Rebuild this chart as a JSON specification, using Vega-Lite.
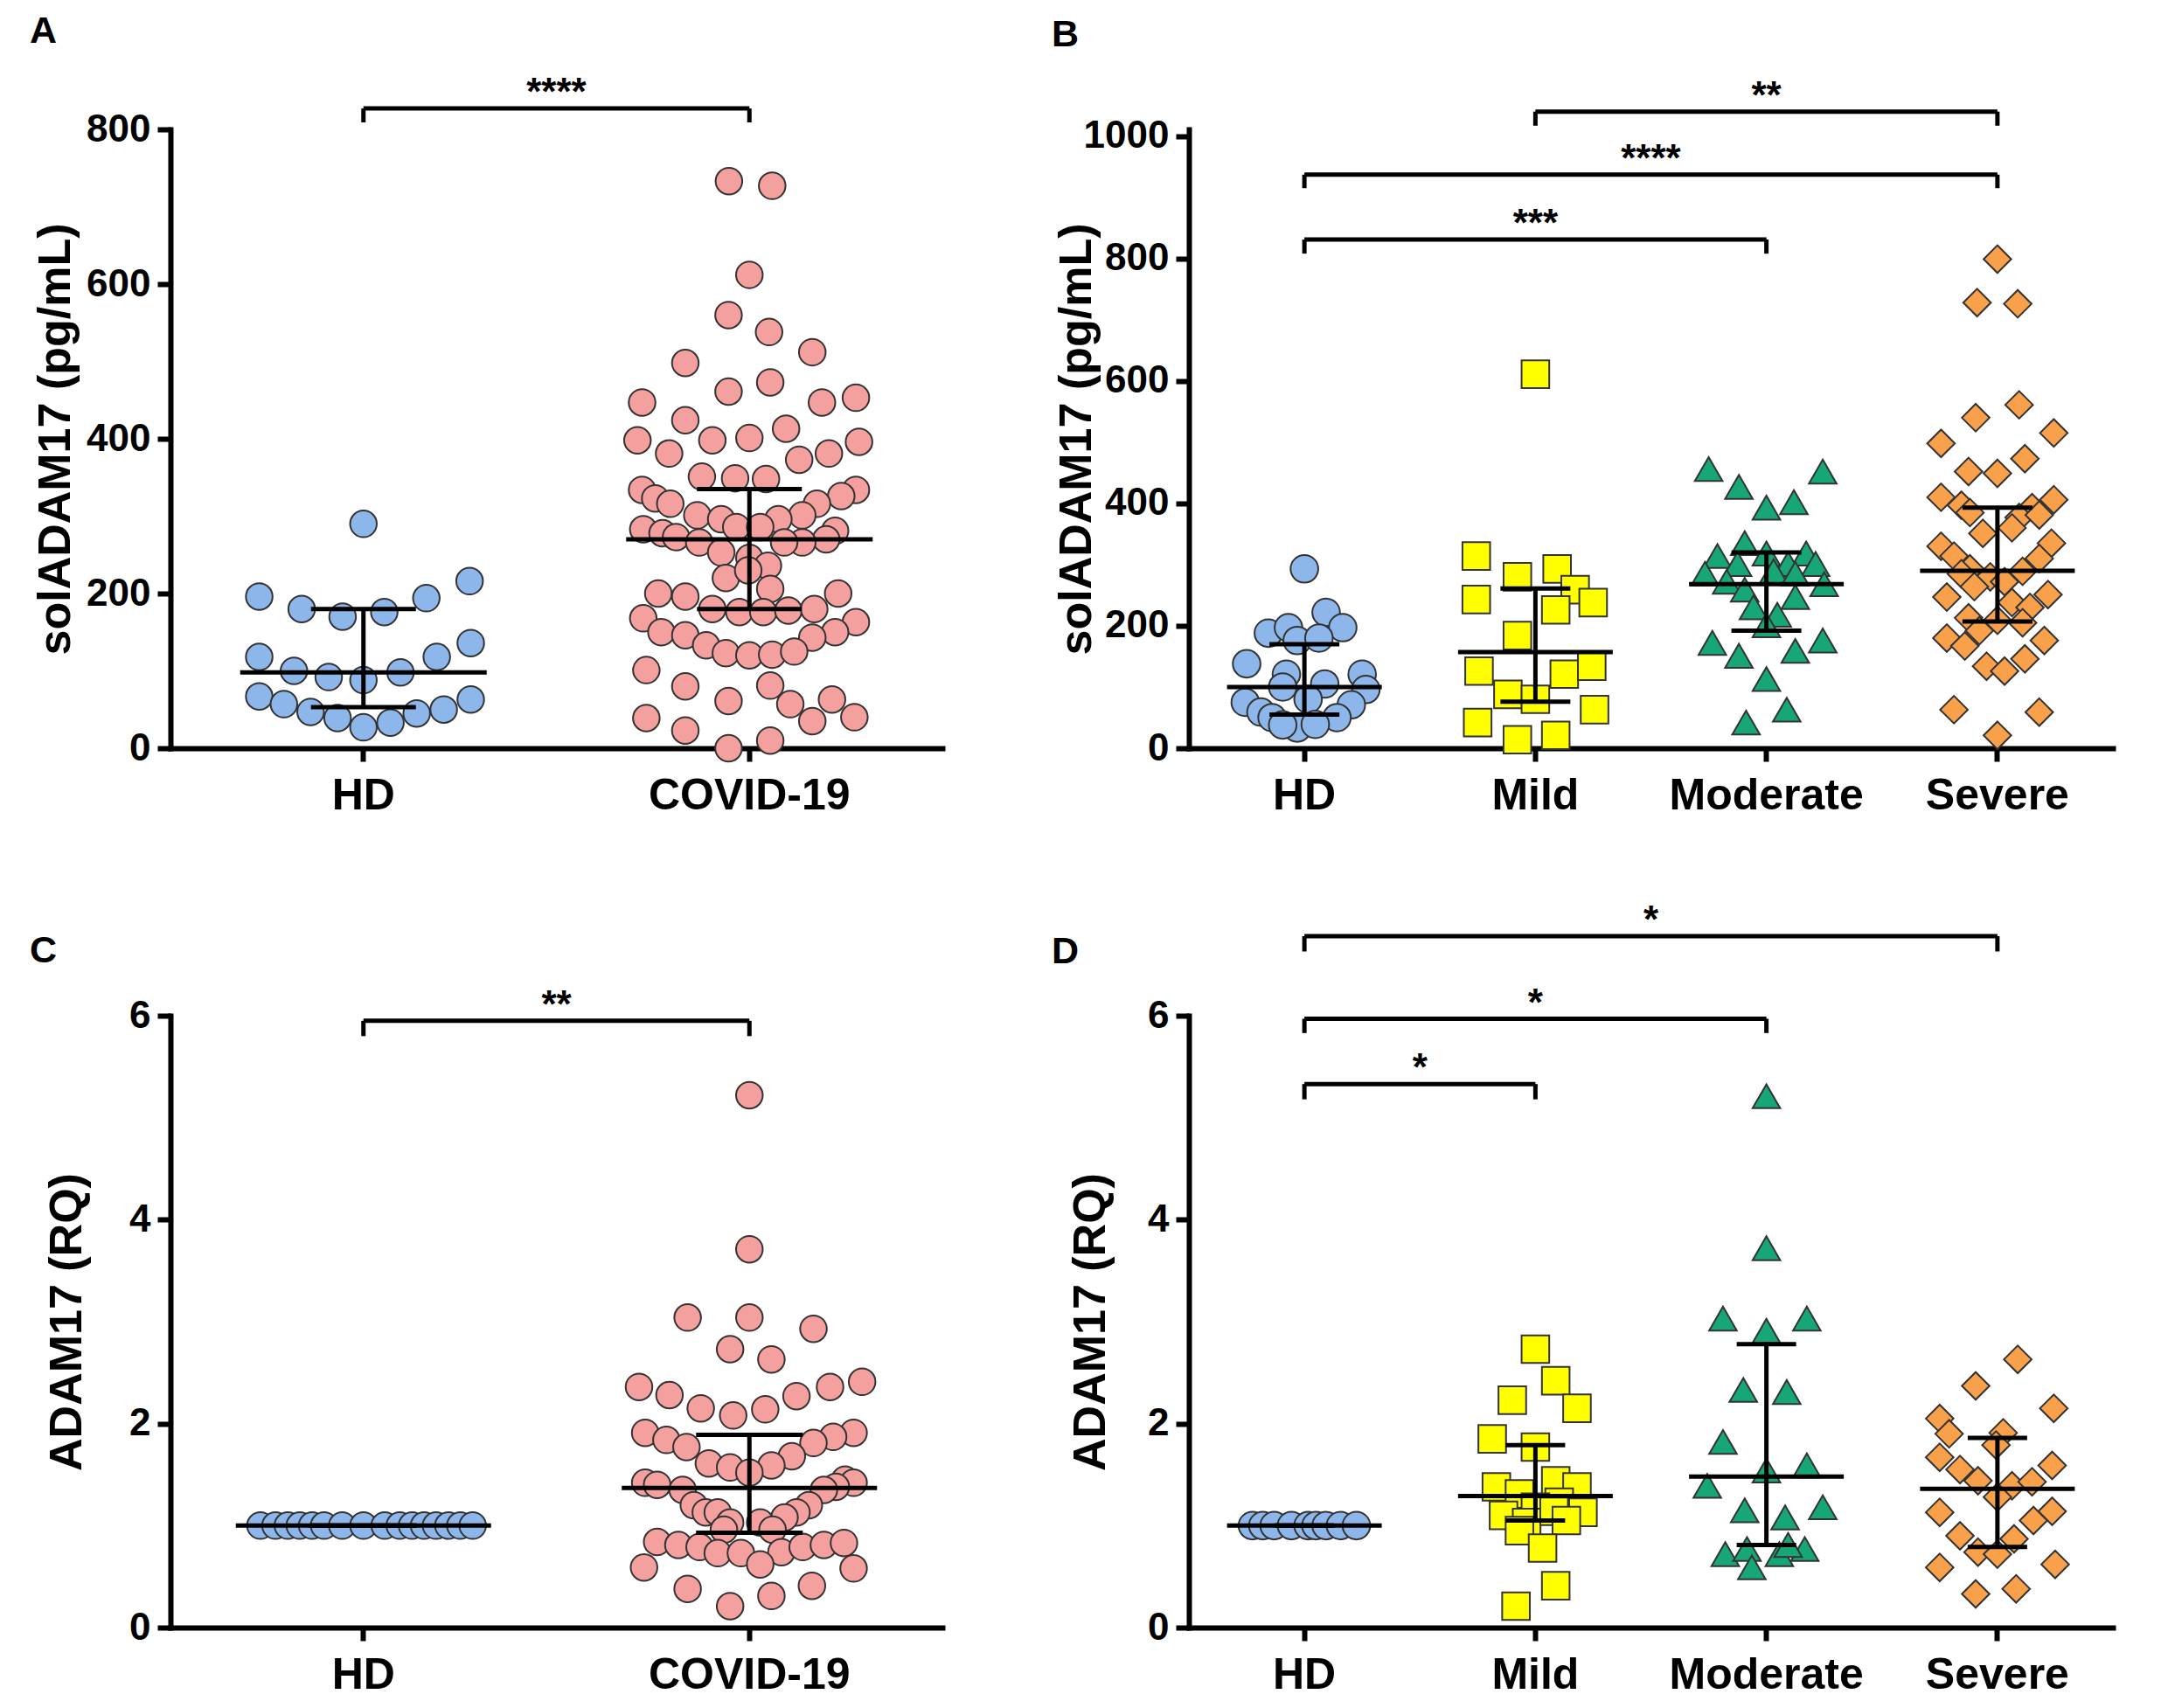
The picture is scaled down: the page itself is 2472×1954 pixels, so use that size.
{
"$schema": "https://vega.github.io/schema/vega-lite/v6.json",
"padding": {"left": 34, "top": 15, "right": 10, "bottom": 10},
"background": "white",
"config": {
 "font": "Liberation Sans",
 "view": {"stroke": null},
 "axis": {"domainColor": "#000", "domainWidth": 6, "domainCap": "square", "tickColor": "#000", "tickWidth": 6, "tickSize": 15, "labelFont": "Liberation Sans", "labelFontWeight": "bold", "labelColor": "#000", "titleFont": "Liberation Sans", "titleFontWeight": "bold", "titleColor": "#000", "titleFontSize": 52, "grid": false, "labelLimit": 600},
 "axisX": {"labelFontSize": 50, "labelAngle": 0, "labelPadding": 14},
 "axisY": {"labelFontSize": 44, "labelPadding": 8, "format": "d", "titleBaseline": "middle"},
 "title": {"font": "Liberation Sans", "fontSize": 43, "fontWeight": "bold", "color": "#000", "anchor": "start", "frame": "group"}
},
"resolve": {"scale": {"xOffset": "independent", "fill": "independent", "shape": "independent"}},
"datasets": {
 "ptsA": [
  {"g":"HD","v":290,"off":0},{"g":"HD","v":196,"off":-0.27},{"g":"HD","v":180,"off":-0.16},{"g":"HD","v":170,"off":-0.054},{"g":"HD","v":176,"off":0.054},{"g":"HD","v":194,"off":0.163},{"g":"HD","v":216,"off":0.275},{"g":"HD","v":136,"off":0.278},{"g":"HD","v":118,"off":-0.27},{"g":"HD","v":118,"off":0.19},{"g":"HD","v":100,"off":-0.18},{"g":"HD","v":92,"off":-0.09},{"g":"HD","v":88,"off":0},{"g":"HD","v":98,"off":0.096},{"g":"HD","v":67,"off":-0.27},{"g":"HD","v":57,"off":-0.206},{"g":"HD","v":47,"off":-0.137},{"g":"HD","v":39,"off":-0.067},{"g":"HD","v":27,"off":0},{"g":"HD","v":33,"off":0.07},{"g":"HD","v":45,"off":0.138},{"g":"HD","v":50,"off":0.208},{"g":"HD","v":63,"off":0.278},
  {"g":"COVID-19","v":733,"off":-0.053},{"g":"COVID-19","v":727,"off":0.059},{"g":"COVID-19","v":612,"off":0},{"g":"COVID-19","v":560,"off":-0.054},{"g":"COVID-19","v":538,"off":0.051},{"g":"COVID-19","v":512,"off":0.163},{"g":"COVID-19","v":498,"off":-0.166},{"g":"COVID-19","v":461,"off":-0.054},{"g":"COVID-19","v":473,"off":0.054},{"g":"COVID-19","v":447,"off":-0.278},{"g":"COVID-19","v":447,"off":0.188},{"g":"COVID-19","v":453,"off":0.276},{"g":"COVID-19","v":424,"off":-0.166},{"g":"COVID-19","v":413,"off":0.095},{"g":"COVID-19","v":398,"off":-0.29},{"g":"COVID-19","v":398,"off":-0.096},{"g":"COVID-19","v":401,"off":0},{"g":"COVID-19","v":396,"off":0.284},{"g":"COVID-19","v":381,"off":-0.208},{"g":"COVID-19","v":381,"off":0.206},{"g":"COVID-19","v":373,"off":0.129},{"g":"COVID-19","v":351,"off":-0.123},{"g":"COVID-19","v":349,"off":-0.037},{"g":"COVID-19","v":348,"off":0.043},{"g":"COVID-19","v":334,"off":-0.278},{"g":"COVID-19","v":334,"off":0.276},{"g":"COVID-19","v":323,"off":-0.244},{"g":"COVID-19","v":316,"off":-0.205},{"g":"COVID-19","v":326,"off":0.238},{"g":"COVID-19","v":316,"off":0.175},{"g":"COVID-19","v":301,"off":-0.135},{"g":"COVID-19","v":296,"off":-0.073},{"g":"COVID-19","v":301,"off":0.137},{"g":"COVID-19","v":296,"off":0.075},{"g":"COVID-19","v":283,"off":-0.275},{"g":"COVID-19","v":281,"off":0.222},{"g":"COVID-19","v":278,"off":-0.225},{"g":"COVID-19","v":273,"off":-0.19},{"g":"COVID-19","v":286,"off":-0.034},{"g":"COVID-19","v":286,"off":0.028},{"g":"COVID-19","v":270,"off":0.199},{"g":"COVID-19","v":266,"off":-0.13},{"g":"COVID-19","v":266,"off":0.137},{"g":"COVID-19","v":253,"off":-0.073},{"g":"COVID-19","v":266,"off":0.09},{"g":"COVID-19","v":246,"off":0},{"g":"COVID-19","v":236,"off":0.048},{"g":"COVID-19","v":220,"off":-0.061},{"g":"COVID-19","v":230,"off":-0.003},{"g":"COVID-19","v":206,"off":0.054},{"g":"COVID-19","v":200,"off":-0.236},{"g":"COVID-19","v":196,"off":-0.166},{"g":"COVID-19","v":200,"off":0.23},{"g":"COVID-19","v":180,"off":-0.096},{"g":"COVID-19","v":176,"off":-0.026},{"g":"COVID-19","v":176,"off":0.036},{"g":"COVID-19","v":178,"off":0.101},{"g":"COVID-19","v":180,"off":0.168},{"g":"COVID-19","v":168,"off":-0.275},{"g":"COVID-19","v":163,"off":0.276},{"g":"COVID-19","v":150,"off":-0.228},{"g":"COVID-19","v":146,"off":-0.166},{"g":"COVID-19","v":150,"off":0.222},{"g":"COVID-19","v":143,"off":0.163},{"g":"COVID-19","v":133,"off":-0.112},{"g":"COVID-19","v":123,"off":-0.061},{"g":"COVID-19","v":120,"off":0},{"g":"COVID-19","v":121,"off":0.059},{"g":"COVID-19","v":125,"off":0.116},{"g":"COVID-19","v":101,"off":-0.267},{"g":"COVID-19","v":80,"off":-0.166},{"g":"COVID-19","v":81,"off":0.054},{"g":"COVID-19","v":61,"off":-0.054},{"g":"COVID-19","v":57,"off":0.106},{"g":"COVID-19","v":63,"off":0.214},{"g":"COVID-19","v":39,"off":-0.267},{"g":"COVID-19","v":35,"off":0.163},{"g":"COVID-19","v":40,"off":0.272},{"g":"COVID-19","v":23,"off":-0.166},{"g":"COVID-19","v":10,"off":0.054},{"g":"COVID-19","v":0,"off":-0.054}
 ],
 "sumA": [{"g":"HD","med":98,"q1":53,"q3":180},{"g":"COVID-19","med":270,"q1":180,"q3":335}],
 "brA": [{"g1":"HD","g2":"COVID-19","y":827,"ylow":809,"mid":0.5,"label":"****"}],
 "ptsB": [
  {"g":"HD","v":293,"off":0},{"g":"HD","v":188,"off":-0.156},{"g":"HD","v":197,"off":-0.069},{"g":"HD","v":222,"off":0.094},{"g":"HD","v":197,"off":0.166},{"g":"HD","v":176,"off":-0.031},{"g":"HD","v":180,"off":0.063},{"g":"HD","v":138,"off":-0.25},{"g":"HD","v":121,"off":-0.078},{"g":"HD","v":121,"off":0.25},{"g":"HD","v":105,"off":0.088},{"g":"HD","v":100,"off":-0.094},{"g":"HD","v":96,"off":0.266},{"g":"HD","v":75,"off":-0.256},{"g":"HD","v":80,"off":0.016},{"g":"HD","v":71,"off":0.203},{"g":"HD","v":59,"off":-0.188},{"g":"HD","v":50,"off":-0.14},{"g":"HD","v":50,"off":0.141},{"g":"HD","v":33,"off":-0.031},{"g":"HD","v":39,"off":0.047},{"g":"HD","v":38,"off":-0.094},
  {"g":"Mild","v":611,"off":0},{"g":"Mild","v":314,"off":-0.256},{"g":"Mild","v":280,"off":-0.078},{"g":"Mild","v":293,"off":0.094},{"g":"Mild","v":259,"off":0.172},{"g":"Mild","v":243,"off":-0.256},{"g":"Mild","v":238,"off":0.25},{"g":"Mild","v":226,"off":0.088},{"g":"Mild","v":184,"off":-0.078},{"g":"Mild","v":126,"off":-0.244},{"g":"Mild","v":121,"off":0.125},{"g":"Mild","v":134,"off":0.244},{"g":"Mild","v":88,"off":-0.119},{"g":"Mild","v":80,"off":0},{"g":"Mild","v":63,"off":0.256},{"g":"Mild","v":42,"off":-0.25},{"g":"Mild","v":14,"off":-0.078},{"g":"Mild","v":21,"off":0.088},
  {"g":"Moderate","v":456,"off":-0.25},{"g":"Moderate","v":452,"off":0.244},{"g":"Moderate","v":427,"off":-0.119},{"g":"Moderate","v":402,"off":0.119},{"g":"Moderate","v":393,"off":0},{"g":"Moderate","v":335,"off":-0.094},{"g":"Moderate","v":314,"off":-0.212},{"g":"Moderate","v":318,"off":0.172},{"g":"Moderate","v":301,"off":0.213},{"g":"Moderate","v":318,"off":0},{"g":"Moderate","v":301,"off":-0.125},{"g":"Moderate","v":301,"off":0.094},{"g":"Moderate","v":285,"off":-0.266},{"g":"Moderate","v":289,"off":0.031},{"g":"Moderate","v":285,"off":0.125},{"g":"Moderate","v":272,"off":-0.172},{"g":"Moderate","v":268,"off":0.25},{"g":"Moderate","v":259,"off":-0.094},{"g":"Moderate","v":247,"off":0.125},{"g":"Moderate","v":230,"off":-0.056},{"g":"Moderate","v":218,"off":0.047},{"g":"Moderate","v":201,"off":0},{"g":"Moderate","v":172,"off":-0.234},{"g":"Moderate","v":176,"off":0.244},{"g":"Moderate","v":151,"off":-0.119},{"g":"Moderate","v":159,"off":0.125},{"g":"Moderate","v":113,"off":0},{"g":"Moderate","v":63,"off":0.088},{"g":"Moderate","v":42,"off":-0.088},
  {"g":"Severe","v":799,"off":0},{"g":"Severe","v":728,"off":-0.088},{"g":"Severe","v":726,"off":0.088},{"g":"Severe","v":561,"off":0.094},{"g":"Severe","v":540,"off":-0.094},{"g":"Severe","v":515,"off":0.244},{"g":"Severe","v":498,"off":-0.244},{"g":"Severe","v":473,"off":0.119},{"g":"Severe","v":452,"off":-0.125},{"g":"Severe","v":449,"off":0},{"g":"Severe","v":410,"off":-0.244},{"g":"Severe","v":406,"off":0.244},{"g":"Severe","v":397,"off":-0.156},{"g":"Severe","v":393,"off":0.15},{"g":"Severe","v":385,"off":-0.119},{"g":"Severe","v":377,"off":0.094},{"g":"Severe","v":381,"off":0.181},{"g":"Severe","v":351,"off":-0.063},{"g":"Severe","v":360,"off":0.063},{"g":"Severe","v":330,"off":-0.244},{"g":"Severe","v":335,"off":0.234},{"g":"Severe","v":314,"off":-0.188},{"g":"Severe","v":310,"off":0.181},{"g":"Severe","v":293,"off":-0.119},{"g":"Severe","v":289,"off":0.109},{"g":"Severe","v":280,"off":-0.031},{"g":"Severe","v":285,"off":-0.156},{"g":"Severe","v":272,"off":0.031},{"g":"Severe","v":264,"off":-0.1},{"g":"Severe","v":247,"off":-0.219},{"g":"Severe","v":251,"off":0.219},{"g":"Severe","v":238,"off":0.063},{"g":"Severe","v":230,"off":0.141},{"g":"Severe","v":213,"off":-0.125},{"g":"Severe","v":209,"off":0},{"g":"Severe","v":205,"off":0.109},{"g":"Severe","v":192,"off":-0.078},{"g":"Severe","v":180,"off":-0.219},{"g":"Severe","v":176,"off":0.203},{"g":"Severe","v":167,"off":-0.141},{"g":"Severe","v":146,"off":0.119},{"g":"Severe","v":134,"off":-0.047},{"g":"Severe","v":126,"off":0.031},{"g":"Severe","v":63,"off":-0.188},{"g":"Severe","v":59,"off":0.181},{"g":"Severe","v":21,"off":0}
 ],
 "sumB": [{"g":"HD","med":100,"q1":55,"q3":170},{"g":"Mild","med":157,"q1":76,"q3":261},{"g":"Moderate","med":268,"q1":192,"q3":320},{"g":"Severe","med":290,"q1":207,"q3":393}],
 "brB": [{"g1":"Mild","g2":"Severe","y":1040,"ylow":1017,"mid":1,"label":"**"},{"g1":"HD","g2":"Severe","y":937,"ylow":915,"mid":1.5,"label":"****"},{"g1":"HD","g2":"Moderate","y":831,"ylow":808,"mid":1,"label":"***"}],
 "ptsC": [
  {"g":"HD","v":1,"off":-0.267},{"g":"HD","v":1,"off":-0.228},{"g":"HD","v":1,"off":-0.196},{"g":"HD","v":1,"off":-0.165},{"g":"HD","v":1,"off":-0.133},{"g":"HD","v":1,"off":-0.102},{"g":"HD","v":1,"off":-0.055},{"g":"HD","v":1,"off":0},{"g":"HD","v":1,"off":0.055},{"g":"HD","v":1,"off":0.094},{"g":"HD","v":1,"off":0.126},{"g":"HD","v":1,"off":0.157},{"g":"HD","v":1,"off":0.188},{"g":"HD","v":1,"off":0.22},{"g":"HD","v":1,"off":0.251},{"g":"HD","v":1,"off":0.283},
  {"g":"COVID-19","v":5.22,"off":0},{"g":"COVID-19","v":3.71,"off":0},{"g":"COVID-19","v":3.04,"off":-0.16},{"g":"COVID-19","v":3.04,"off":0},{"g":"COVID-19","v":2.93,"off":0.166},{"g":"COVID-19","v":2.73,"off":-0.05},{"g":"COVID-19","v":2.63,"off":0.057},{"g":"COVID-19","v":2.36,"off":-0.286},{"g":"COVID-19","v":2.41,"off":0.292},{"g":"COVID-19","v":2.28,"off":-0.207},{"g":"COVID-19","v":2.36,"off":0.209},{"g":"COVID-19","v":2.27,"off":0.122},{"g":"COVID-19","v":2.15,"off":-0.126},{"g":"COVID-19","v":2.08,"off":-0.042},{"g":"COVID-19","v":2.14,"off":0.041},{"g":"COVID-19","v":1.91,"off":-0.27},{"g":"COVID-19","v":1.91,"off":0.27},{"g":"COVID-19","v":1.84,"off":-0.215},{"g":"COVID-19","v":1.87,"off":0.217},{"g":"COVID-19","v":1.77,"off":-0.163},{"g":"COVID-19","v":1.81,"off":0.166},{"g":"COVID-19","v":1.68,"off":0.11},{"g":"COVID-19","v":1.61,"off":-0.105},{"g":"COVID-19","v":1.57,"off":-0.05},{"g":"COVID-19","v":1.59,"off":0.057},{"g":"COVID-19","v":1.52,"off":0},{"g":"COVID-19","v":1.42,"off":-0.27},{"g":"COVID-19","v":1.4,"off":-0.239},{"g":"COVID-19","v":1.45,"off":0.248},{"g":"COVID-19","v":1.42,"off":0.27},{"g":"COVID-19","v":1.38,"off":0.224},{"g":"COVID-19","v":1.35,"off":-0.173},{"g":"COVID-19","v":1.35,"off":0.193},{"g":"COVID-19","v":1.2,"off":-0.144},{"g":"COVID-19","v":1.2,"off":0.154},{"g":"COVID-19","v":1.13,"off":-0.113},{"g":"COVID-19","v":1.13,"off":-0.082},{"g":"COVID-19","v":1.13,"off":0.122},{"g":"COVID-19","v":1.08,"off":0.091},{"g":"COVID-19","v":1.03,"off":-0.05},{"g":"COVID-19","v":1.03,"off":0.028},{"g":"COVID-19","v":0.96,"off":0.06},{"g":"COVID-19","v":0.96,"off":-0.066},{"g":"COVID-19","v":0.84,"off":-0.239},{"g":"COVID-19","v":0.81,"off":-0.184},{"g":"COVID-19","v":0.79,"off":-0.129},{"g":"COVID-19","v":0.73,"off":-0.082},{"g":"COVID-19","v":0.73,"off":-0.022},{"g":"COVID-19","v":0.74,"off":0.083},{"g":"COVID-19","v":0.79,"off":0.138},{"g":"COVID-19","v":0.81,"off":0.193},{"g":"COVID-19","v":0.83,"off":0.245},{"g":"COVID-19","v":0.62,"off":0.028},{"g":"COVID-19","v":0.59,"off":-0.273},{"g":"COVID-19","v":0.58,"off":0.27},{"g":"COVID-19","v":0.38,"off":-0.16},{"g":"COVID-19","v":0.41,"off":0.162},{"g":"COVID-19","v":0.31,"off":0.057},{"g":"COVID-19","v":0.21,"off":-0.05}
 ],
 "sumC": [{"g":"HD","med":1,"q1":1,"q3":1},{"g":"COVID-19","med":1.37,"q1":0.93,"q3":1.89}],
 "brC": [{"g1":"HD","g2":"COVID-19","y":5.95,"ylow":5.8,"mid":0.5,"label":"**"}],
 "ptsD": [
  {"g":"HD","v":1,"off":-0.225},{"g":"HD","v":1,"off":-0.18},{"g":"HD","v":1,"off":-0.131},{"g":"HD","v":1,"off":-0.056},{"g":"HD","v":1,"off":0.016},{"g":"HD","v":1,"off":0.05},{"g":"HD","v":1,"off":0.094},{"g":"HD","v":1,"off":0.156},{"g":"HD","v":1,"off":0.225},
  {"g":"Mild","v":2.73,"off":0},{"g":"Mild","v":2.42,"off":0.088},{"g":"Mild","v":2.23,"off":-0.1},{"g":"Mild","v":2.15,"off":0.18},{"g":"Mild","v":1.85,"off":-0.187},{"g":"Mild","v":1.77,"off":0},{"g":"Mild","v":1.38,"off":-0.169},{"g":"Mild","v":1.44,"off":0.088},{"g":"Mild","v":1.38,"off":0.18},{"g":"Mild","v":1.31,"off":-0.069},{"g":"Mild","v":1.23,"off":0.103},{"g":"Mild","v":1.18,"off":0},{"g":"Mild","v":1.1,"off":-0.138},{"g":"Mild","v":1.03,"off":-0.038},{"g":"Mild","v":1.14,"off":0.081},{"g":"Mild","v":1.13,"off":0.206},{"g":"Mild","v":1.05,"off":0.134},{"g":"Mild","v":0.95,"off":-0.069},{"g":"Mild","v":0.78,"off":0.031},{"g":"Mild","v":0.41,"off":0.088},{"g":"Mild","v":0.21,"off":-0.084},
  {"g":"Moderate","v":5.21,"off":0},{"g":"Moderate","v":3.72,"off":0},{"g":"Moderate","v":3.03,"off":-0.188},{"g":"Moderate","v":3.03,"off":0.175},{"g":"Moderate","v":2.91,"off":0},{"g":"Moderate","v":2.33,"off":-0.1},{"g":"Moderate","v":2.31,"off":0.088},{"g":"Moderate","v":1.82,"off":-0.188},{"g":"Moderate","v":1.59,"off":0.175},{"g":"Moderate","v":1.54,"off":0},{"g":"Moderate","v":1.39,"off":-0.256},{"g":"Moderate","v":1.18,"off":0.244},{"g":"Moderate","v":1.15,"off":-0.094},{"g":"Moderate","v":1.08,"off":0.081},{"g":"Moderate","v":0.72,"off":-0.178},{"g":"Moderate","v":0.77,"off":-0.084},{"g":"Moderate","v":0.72,"off":0.056},{"g":"Moderate","v":0.77,"off":0.166},{"g":"Moderate","v":0.81,"off":0.094},{"g":"Moderate","v":0.59,"off":-0.063},
  {"g":"Severe","v":2.63,"off":0.088},{"g":"Severe","v":2.37,"off":-0.094},{"g":"Severe","v":2.15,"off":0.244},{"g":"Severe","v":2.05,"off":-0.25},{"g":"Severe","v":1.9,"off":-0.209},{"g":"Severe","v":1.91,"off":0.025},{"g":"Severe","v":1.79,"off":-0.006},{"g":"Severe","v":1.67,"off":-0.25},{"g":"Severe","v":1.59,"off":0.237},{"g":"Severe","v":1.55,"off":-0.162},{"g":"Severe","v":1.44,"off":-0.084},{"g":"Severe","v":1.39,"off":0.063},{"g":"Severe","v":1.43,"off":0.15},{"g":"Severe","v":1.28,"off":0},{"g":"Severe","v":1.13,"off":-0.25},{"g":"Severe","v":1.14,"off":0.237},{"g":"Severe","v":1.05,"off":0.156},{"g":"Severe","v":0.9,"off":-0.162},{"g":"Severe","v":0.87,"off":0.072},{"g":"Severe","v":0.74,"off":-0.084},{"g":"Severe","v":0.72,"off":0},{"g":"Severe","v":0.59,"off":-0.25},{"g":"Severe","v":0.62,"off":0.25},{"g":"Severe","v":0.33,"off":-0.094},{"g":"Severe","v":0.38,"off":0.081}
 ],
 "sumD": [{"g":"HD","med":1,"q1":1,"q3":1},{"g":"Mild","med":1.29,"q1":1.05,"q3":1.79},{"g":"Moderate","med":1.48,"q1":0.81,"q3":2.78},{"g":"Severe","med":1.36,"q1":0.79,"q3":1.86}],
 "brD": [{"g1":"HD","g2":"Severe","y":6.78,"ylow":6.63,"mid":1.5,"label":"*"},{"g1":"HD","g2":"Moderate","y":5.97,"ylow":5.83,"mid":1,"label":"*"},{"g1":"HD","g2":"Mild","y":5.33,"ylow":5.18,"mid":0.5,"label":"*"}]
},
"columns": 2,
"bounds": "flush",
"spacing": {"row": 306, "column": 282},
"concat": [
 {
  "width": 883, "height": 708,
  "title": {"text": "A", "dx": -161, "dy": -23},
  "layer": [
   {"data": {"name": "ptsA"}, "mark": {"type": "point", "shape": "circle", "filled": true, "size": 930, "stroke": "#333", "strokeWidth": 2, "opacity": 1},
    "encoding": {
     "x": {"field": "g", "type": "nominal", "title": null, "sort": null, "scale": {"domain": ["HD","COVID-19"], "paddingInner": 0, "paddingOuter": 0}},
     "xOffset": {"field": "off", "type": "quantitative", "scale": {"domain": [-0.5, 0.5], "range": [0, 441.5]}},
     "y": {"field": "v", "type": "quantitative", "title": "solADAM17 (pg/mL)", "scale": {"domain": [0, 800], "nice": false}, "axis": {"values": [0,200,400,600,800], "titleX": -132}},
     "fill": {"field": "g", "type": "nominal", "scale": {"domain": ["HD","COVID-19"], "range": ["#8db6ea","#f4a09e"]}, "legend": null}
    }},
   {"data": {"name": "sumA"}, "mark": {"type": "rule", "strokeWidth": 5, "color": "#000"},
    "encoding": {"x": {"field": "g", "type": "nominal", "title": null, "sort": null, "scale": {"domain": ["HD","COVID-19"], "paddingInner": 0, "paddingOuter": 0}},
     "y": {"field": "q1", "type": "quantitative", "title": "solADAM17 (pg/mL)", "scale": {"domain": [0, 800], "nice": false}}, "y2": {"field": "q3"}}},
   {"data": {"name": "sumA"}, "mark": {"type": "tick", "orient": "horizontal", "size": 120, "thickness": 5, "color": "#000", "opacity": 1},
    "encoding": {"x": {"field": "g", "type": "nominal", "title": null, "sort": null, "scale": {"domain": ["HD","COVID-19"], "paddingInner": 0, "paddingOuter": 0}},
     "y": {"field": "q1", "type": "quantitative", "title": "solADAM17 (pg/mL)", "scale": {"domain": [0, 800], "nice": false}}}},
   {"data": {"name": "sumA"}, "mark": {"type": "tick", "orient": "horizontal", "size": 120, "thickness": 5, "color": "#000", "opacity": 1},
    "encoding": {"x": {"field": "g", "type": "nominal", "title": null, "sort": null, "scale": {"domain": ["HD","COVID-19"], "paddingInner": 0, "paddingOuter": 0}},
     "y": {"field": "q3", "type": "quantitative", "title": "solADAM17 (pg/mL)", "scale": {"domain": [0, 800], "nice": false}}}},
   {"data": {"name": "sumA"}, "mark": {"type": "tick", "orient": "horizontal", "size": 282, "thickness": 5, "color": "#000", "opacity": 1},
    "encoding": {"x": {"field": "g", "type": "nominal", "title": null, "sort": null, "scale": {"domain": ["HD","COVID-19"], "paddingInner": 0, "paddingOuter": 0}},
     "y": {"field": "med", "type": "quantitative", "title": "solADAM17 (pg/mL)", "scale": {"domain": [0, 800], "nice": false}}}},
   {"data": {"name": "brA"}, "mark": {"type": "rule", "strokeWidth": 5, "color": "#000"},
    "encoding": {"x": {"field": "g1", "type": "nominal", "title": null, "sort": null, "scale": {"domain": ["HD","COVID-19"], "paddingInner": 0, "paddingOuter": 0}}, "x2": {"field": "g2"},
     "y": {"field": "y", "type": "quantitative", "title": "solADAM17 (pg/mL)", "scale": {"domain": [0, 800], "nice": false}}}},
   {"data": {"name": "brA"}, "mark": {"type": "rule", "strokeWidth": 5, "color": "#000"},
    "encoding": {"x": {"field": "g1", "type": "nominal", "title": null, "sort": null, "scale": {"domain": ["HD","COVID-19"], "paddingInner": 0, "paddingOuter": 0}},
     "y": {"field": "y", "type": "quantitative", "title": "solADAM17 (pg/mL)", "scale": {"domain": [0, 800], "nice": false}}, "y2": {"field": "ylow"}}},
   {"data": {"name": "brA"}, "mark": {"type": "rule", "strokeWidth": 5, "color": "#000"},
    "encoding": {"x": {"field": "g2", "type": "nominal", "title": null, "sort": null, "scale": {"domain": ["HD","COVID-19"], "paddingInner": 0, "paddingOuter": 0}},
     "y": {"field": "y", "type": "quantitative", "title": "solADAM17 (pg/mL)", "scale": {"domain": [0, 800], "nice": false}}, "y2": {"field": "ylow"}}},
   {"data": {"name": "brA"}, "mark": {"type": "text", "fontSize": 44, "fontWeight": "bold", "baseline": "alphabetic", "align": "center", "dy": -4, "color": "#000"},
    "encoding": {"x": {"field": "g1", "type": "nominal", "title": null, "sort": null, "scale": {"domain": ["HD","COVID-19"], "paddingInner": 0, "paddingOuter": 0}},
     "xOffset": {"field": "mid", "type": "quantitative", "scale": {"domain": [-0.5, 0.5], "range": [0, 441.5]}},
     "y": {"field": "y", "type": "quantitative", "title": "solADAM17 (pg/mL)", "scale": {"domain": [0, 800], "nice": false}}, "text": {"field": "label"}}}
  ]
 },
 {
  "width": 1057, "height": 708,
  "title": {"text": "B", "dx": -157, "dy": -23},
  "layer": [
   {"data": {"name": "ptsB"}, "mark": {"type": "point", "filled": true, "size": 1000, "stroke": "#333", "strokeWidth": 2, "opacity": 1},
    "encoding": {
     "x": {"field": "g", "type": "nominal", "title": null, "sort": null, "scale": {"domain": ["HD","Mild","Moderate","Severe"], "paddingInner": 0, "paddingOuter": 0}},
     "xOffset": {"field": "off", "type": "quantitative", "scale": {"domain": [-0.5, 0.5], "range": [0, 264.25]}},
     "y": {"field": "v", "type": "quantitative", "title": "solADAM17 (pg/mL)", "scale": {"domain": [0, 1011], "nice": false}, "axis": {"values": [0,200,400,600,800,1000], "titleX": -129}},
     "fill": {"field": "g", "type": "nominal", "scale": {"domain": ["HD","Mild","Moderate","Severe"], "range": ["#8db6ea","#ffff00","#17a678","#f9a04b"]}, "legend": null},
     "shape": {"field": "g", "type": "nominal", "scale": {"domain": ["HD","Mild","Moderate","Severe"], "range": ["circle","square","triangle-up","diamond"]}, "legend": null}
    }},
   {"data": {"name": "sumB"}, "mark": {"type": "rule", "strokeWidth": 5, "color": "#000"},
    "encoding": {"x": {"field": "g", "type": "nominal", "title": null, "sort": null, "scale": {"domain": ["HD","Mild","Moderate","Severe"], "paddingInner": 0, "paddingOuter": 0}},
     "y": {"field": "q1", "type": "quantitative", "title": "solADAM17 (pg/mL)", "scale": {"domain": [0, 1011], "nice": false}}, "y2": {"field": "q3"}}},
   {"data": {"name": "sumB"}, "mark": {"type": "tick", "orient": "horizontal", "size": 80, "thickness": 5, "color": "#000", "opacity": 1},
    "encoding": {"x": {"field": "g", "type": "nominal", "title": null, "sort": null, "scale": {"domain": ["HD","Mild","Moderate","Severe"], "paddingInner": 0, "paddingOuter": 0}},
     "y": {"field": "q1", "type": "quantitative", "title": "solADAM17 (pg/mL)", "scale": {"domain": [0, 1011], "nice": false}}}},
   {"data": {"name": "sumB"}, "mark": {"type": "tick", "orient": "horizontal", "size": 80, "thickness": 5, "color": "#000", "opacity": 1},
    "encoding": {"x": {"field": "g", "type": "nominal", "title": null, "sort": null, "scale": {"domain": ["HD","Mild","Moderate","Severe"], "paddingInner": 0, "paddingOuter": 0}},
     "y": {"field": "q3", "type": "quantitative", "title": "solADAM17 (pg/mL)", "scale": {"domain": [0, 1011], "nice": false}}}},
   {"data": {"name": "sumB"}, "mark": {"type": "tick", "orient": "horizontal", "size": 177, "thickness": 5, "color": "#000", "opacity": 1},
    "encoding": {"x": {"field": "g", "type": "nominal", "title": null, "sort": null, "scale": {"domain": ["HD","Mild","Moderate","Severe"], "paddingInner": 0, "paddingOuter": 0}},
     "y": {"field": "med", "type": "quantitative", "title": "solADAM17 (pg/mL)", "scale": {"domain": [0, 1011], "nice": false}}}},
   {"data": {"name": "brB"}, "mark": {"type": "rule", "strokeWidth": 5, "color": "#000"},
    "encoding": {"x": {"field": "g1", "type": "nominal", "title": null, "sort": null, "scale": {"domain": ["HD","Mild","Moderate","Severe"], "paddingInner": 0, "paddingOuter": 0}}, "x2": {"field": "g2"},
     "y": {"field": "y", "type": "quantitative", "title": "solADAM17 (pg/mL)", "scale": {"domain": [0, 1011], "nice": false}}}},
   {"data": {"name": "brB"}, "mark": {"type": "rule", "strokeWidth": 5, "color": "#000"},
    "encoding": {"x": {"field": "g1", "type": "nominal", "title": null, "sort": null, "scale": {"domain": ["HD","Mild","Moderate","Severe"], "paddingInner": 0, "paddingOuter": 0}},
     "y": {"field": "y", "type": "quantitative", "title": "solADAM17 (pg/mL)", "scale": {"domain": [0, 1011], "nice": false}}, "y2": {"field": "ylow"}}},
   {"data": {"name": "brB"}, "mark": {"type": "rule", "strokeWidth": 5, "color": "#000"},
    "encoding": {"x": {"field": "g2", "type": "nominal", "title": null, "sort": null, "scale": {"domain": ["HD","Mild","Moderate","Severe"], "paddingInner": 0, "paddingOuter": 0}},
     "y": {"field": "y", "type": "quantitative", "title": "solADAM17 (pg/mL)", "scale": {"domain": [0, 1011], "nice": false}}, "y2": {"field": "ylow"}}},
   {"data": {"name": "brB"}, "mark": {"type": "text", "fontSize": 44, "fontWeight": "bold", "baseline": "alphabetic", "align": "center", "dy": -4, "color": "#000"},
    "encoding": {"x": {"field": "g1", "type": "nominal", "title": null, "sort": null, "scale": {"domain": ["HD","Mild","Moderate","Severe"], "paddingInner": 0, "paddingOuter": 0}},
     "xOffset": {"field": "mid", "type": "quantitative", "scale": {"domain": [-0.5, 0.5], "range": [0, 264.25]}},
     "y": {"field": "y", "type": "quantitative", "title": "solADAM17 (pg/mL)", "scale": {"domain": [0, 1011], "nice": false}}, "text": {"field": "label"}}}
  ]
 },
 {
  "width": 883, "height": 700,
  "title": {"text": "C", "dx": -161, "dy": -15},
  "layer": [
   {"data": {"name": "ptsC"}, "mark": {"type": "point", "shape": "circle", "filled": true, "size": 930, "stroke": "#333", "strokeWidth": 2, "opacity": 1},
    "encoding": {
     "x": {"field": "g", "type": "nominal", "title": null, "sort": null, "scale": {"domain": ["HD","COVID-19"], "paddingInner": 0, "paddingOuter": 0}},
     "xOffset": {"field": "off", "type": "quantitative", "scale": {"domain": [-0.5, 0.5], "range": [0, 441.5]}},
     "y": {"field": "v", "type": "quantitative", "title": "ADAM17 (RQ)", "scale": {"domain": [0, 6], "nice": false}, "axis": {"values": [0,2,4,6], "titleX": -119}},
     "fill": {"field": "g", "type": "nominal", "scale": {"domain": ["HD","COVID-19"], "range": ["#8db6ea","#f4a09e"]}, "legend": null}
    }},
   {"data": {"name": "sumC"}, "mark": {"type": "rule", "strokeWidth": 5, "color": "#000"},
    "encoding": {"x": {"field": "g", "type": "nominal", "title": null, "sort": null, "scale": {"domain": ["HD","COVID-19"], "paddingInner": 0, "paddingOuter": 0}},
     "y": {"field": "q1", "type": "quantitative", "title": "ADAM17 (RQ)", "scale": {"domain": [0, 6], "nice": false}}, "y2": {"field": "q3"}}},
   {"data": {"name": "sumC"}, "mark": {"type": "tick", "orient": "horizontal", "size": 122, "thickness": 5, "color": "#000", "opacity": 1},
    "encoding": {"x": {"field": "g", "type": "nominal", "title": null, "sort": null, "scale": {"domain": ["HD","COVID-19"], "paddingInner": 0, "paddingOuter": 0}},
     "y": {"field": "q1", "type": "quantitative", "title": "ADAM17 (RQ)", "scale": {"domain": [0, 6], "nice": false}}}},
   {"data": {"name": "sumC"}, "mark": {"type": "tick", "orient": "horizontal", "size": 122, "thickness": 5, "color": "#000", "opacity": 1},
    "encoding": {"x": {"field": "g", "type": "nominal", "title": null, "sort": null, "scale": {"domain": ["HD","COVID-19"], "paddingInner": 0, "paddingOuter": 0}},
     "y": {"field": "q3", "type": "quantitative", "title": "ADAM17 (RQ)", "scale": {"domain": [0, 6], "nice": false}}}},
   {"data": {"name": "sumC"}, "mark": {"type": "tick", "orient": "horizontal", "size": 292, "thickness": 5, "color": "#000", "opacity": 1},
    "encoding": {"x": {"field": "g", "type": "nominal", "title": null, "sort": null, "scale": {"domain": ["HD","COVID-19"], "paddingInner": 0, "paddingOuter": 0}},
     "y": {"field": "med", "type": "quantitative", "title": "ADAM17 (RQ)", "scale": {"domain": [0, 6], "nice": false}}}},
   {"data": {"name": "brC"}, "mark": {"type": "rule", "strokeWidth": 5, "color": "#000"},
    "encoding": {"x": {"field": "g1", "type": "nominal", "title": null, "sort": null, "scale": {"domain": ["HD","COVID-19"], "paddingInner": 0, "paddingOuter": 0}}, "x2": {"field": "g2"},
     "y": {"field": "y", "type": "quantitative", "title": "ADAM17 (RQ)", "scale": {"domain": [0, 6], "nice": false}}}},
   {"data": {"name": "brC"}, "mark": {"type": "rule", "strokeWidth": 5, "color": "#000"},
    "encoding": {"x": {"field": "g1", "type": "nominal", "title": null, "sort": null, "scale": {"domain": ["HD","COVID-19"], "paddingInner": 0, "paddingOuter": 0}},
     "y": {"field": "y", "type": "quantitative", "title": "ADAM17 (RQ)", "scale": {"domain": [0, 6], "nice": false}}, "y2": {"field": "ylow"}}},
   {"data": {"name": "brC"}, "mark": {"type": "rule", "strokeWidth": 5, "color": "#000"},
    "encoding": {"x": {"field": "g2", "type": "nominal", "title": null, "sort": null, "scale": {"domain": ["HD","COVID-19"], "paddingInner": 0, "paddingOuter": 0}},
     "y": {"field": "y", "type": "quantitative", "title": "ADAM17 (RQ)", "scale": {"domain": [0, 6], "nice": false}}, "y2": {"field": "ylow"}}},
   {"data": {"name": "brC"}, "mark": {"type": "text", "fontSize": 44, "fontWeight": "bold", "baseline": "alphabetic", "align": "center", "dy": -4, "color": "#000"},
    "encoding": {"x": {"field": "g1", "type": "nominal", "title": null, "sort": null, "scale": {"domain": ["HD","COVID-19"], "paddingInner": 0, "paddingOuter": 0}},
     "xOffset": {"field": "mid", "type": "quantitative", "scale": {"domain": [-0.5, 0.5], "range": [0, 441.5]}},
     "y": {"field": "y", "type": "quantitative", "title": "ADAM17 (RQ)", "scale": {"domain": [0, 6], "nice": false}}, "text": {"field": "label"}}}
  ]
 },
 {
  "width": 1057, "height": 700,
  "title": {"text": "D", "dx": -157, "dy": 83},
  "layer": [
   {"data": {"name": "ptsD"}, "mark": {"type": "point", "filled": true, "size": 1000, "stroke": "#333", "strokeWidth": 2, "opacity": 1},
    "encoding": {
     "x": {"field": "g", "type": "nominal", "title": null, "sort": null, "scale": {"domain": ["HD","Mild","Moderate","Severe"], "paddingInner": 0, "paddingOuter": 0}},
     "xOffset": {"field": "off", "type": "quantitative", "scale": {"domain": [-0.5, 0.5], "range": [0, 264.25]}},
     "y": {"field": "v", "type": "quantitative", "title": "ADAM17 (RQ)", "scale": {"domain": [0, 6], "nice": false}, "axis": {"values": [0,2,4,6], "titleX": -113}},
     "fill": {"field": "g", "type": "nominal", "scale": {"domain": ["HD","Mild","Moderate","Severe"], "range": ["#8db6ea","#ffff00","#17a678","#f9a04b"]}, "legend": null},
     "shape": {"field": "g", "type": "nominal", "scale": {"domain": ["HD","Mild","Moderate","Severe"], "range": ["circle","square","triangle-up","diamond"]}, "legend": null}
    }},
   {"data": {"name": "sumD"}, "mark": {"type": "rule", "strokeWidth": 5, "color": "#000"},
    "encoding": {"x": {"field": "g", "type": "nominal", "title": null, "sort": null, "scale": {"domain": ["HD","Mild","Moderate","Severe"], "paddingInner": 0, "paddingOuter": 0}},
     "y": {"field": "q1", "type": "quantitative", "title": "ADAM17 (RQ)", "scale": {"domain": [0, 6], "nice": false}}, "y2": {"field": "q3"}}},
   {"data": {"name": "sumD"}, "mark": {"type": "tick", "orient": "horizontal", "size": 68, "thickness": 5, "color": "#000", "opacity": 1},
    "encoding": {"x": {"field": "g", "type": "nominal", "title": null, "sort": null, "scale": {"domain": ["HD","Mild","Moderate","Severe"], "paddingInner": 0, "paddingOuter": 0}},
     "y": {"field": "q1", "type": "quantitative", "title": "ADAM17 (RQ)", "scale": {"domain": [0, 6], "nice": false}}}},
   {"data": {"name": "sumD"}, "mark": {"type": "tick", "orient": "horizontal", "size": 68, "thickness": 5, "color": "#000", "opacity": 1},
    "encoding": {"x": {"field": "g", "type": "nominal", "title": null, "sort": null, "scale": {"domain": ["HD","Mild","Moderate","Severe"], "paddingInner": 0, "paddingOuter": 0}},
     "y": {"field": "q3", "type": "quantitative", "title": "ADAM17 (RQ)", "scale": {"domain": [0, 6], "nice": false}}}},
   {"data": {"name": "sumD"}, "mark": {"type": "tick", "orient": "horizontal", "size": 177, "thickness": 5, "color": "#000", "opacity": 1},
    "encoding": {"x": {"field": "g", "type": "nominal", "title": null, "sort": null, "scale": {"domain": ["HD","Mild","Moderate","Severe"], "paddingInner": 0, "paddingOuter": 0}},
     "y": {"field": "med", "type": "quantitative", "title": "ADAM17 (RQ)", "scale": {"domain": [0, 6], "nice": false}}}},
   {"data": {"name": "brD"}, "mark": {"type": "rule", "strokeWidth": 5, "color": "#000"},
    "encoding": {"x": {"field": "g1", "type": "nominal", "title": null, "sort": null, "scale": {"domain": ["HD","Mild","Moderate","Severe"], "paddingInner": 0, "paddingOuter": 0}}, "x2": {"field": "g2"},
     "y": {"field": "y", "type": "quantitative", "title": "ADAM17 (RQ)", "scale": {"domain": [0, 6], "nice": false}}}},
   {"data": {"name": "brD"}, "mark": {"type": "rule", "strokeWidth": 5, "color": "#000"},
    "encoding": {"x": {"field": "g1", "type": "nominal", "title": null, "sort": null, "scale": {"domain": ["HD","Mild","Moderate","Severe"], "paddingInner": 0, "paddingOuter": 0}},
     "y": {"field": "y", "type": "quantitative", "title": "ADAM17 (RQ)", "scale": {"domain": [0, 6], "nice": false}}, "y2": {"field": "ylow"}}},
   {"data": {"name": "brD"}, "mark": {"type": "rule", "strokeWidth": 5, "color": "#000"},
    "encoding": {"x": {"field": "g2", "type": "nominal", "title": null, "sort": null, "scale": {"domain": ["HD","Mild","Moderate","Severe"], "paddingInner": 0, "paddingOuter": 0}},
     "y": {"field": "y", "type": "quantitative", "title": "ADAM17 (RQ)", "scale": {"domain": [0, 6], "nice": false}}, "y2": {"field": "ylow"}}},
   {"data": {"name": "brD"}, "mark": {"type": "text", "fontSize": 44, "fontWeight": "bold", "baseline": "alphabetic", "align": "center", "dy": -4, "color": "#000"},
    "encoding": {"x": {"field": "g1", "type": "nominal", "title": null, "sort": null, "scale": {"domain": ["HD","Mild","Moderate","Severe"], "paddingInner": 0, "paddingOuter": 0}},
     "xOffset": {"field": "mid", "type": "quantitative", "scale": {"domain": [-0.5, 0.5], "range": [0, 264.25]}},
     "y": {"field": "y", "type": "quantitative", "title": "ADAM17 (RQ)", "scale": {"domain": [0, 6], "nice": false}}, "text": {"field": "label"}}}
  ]
 }
]
}
